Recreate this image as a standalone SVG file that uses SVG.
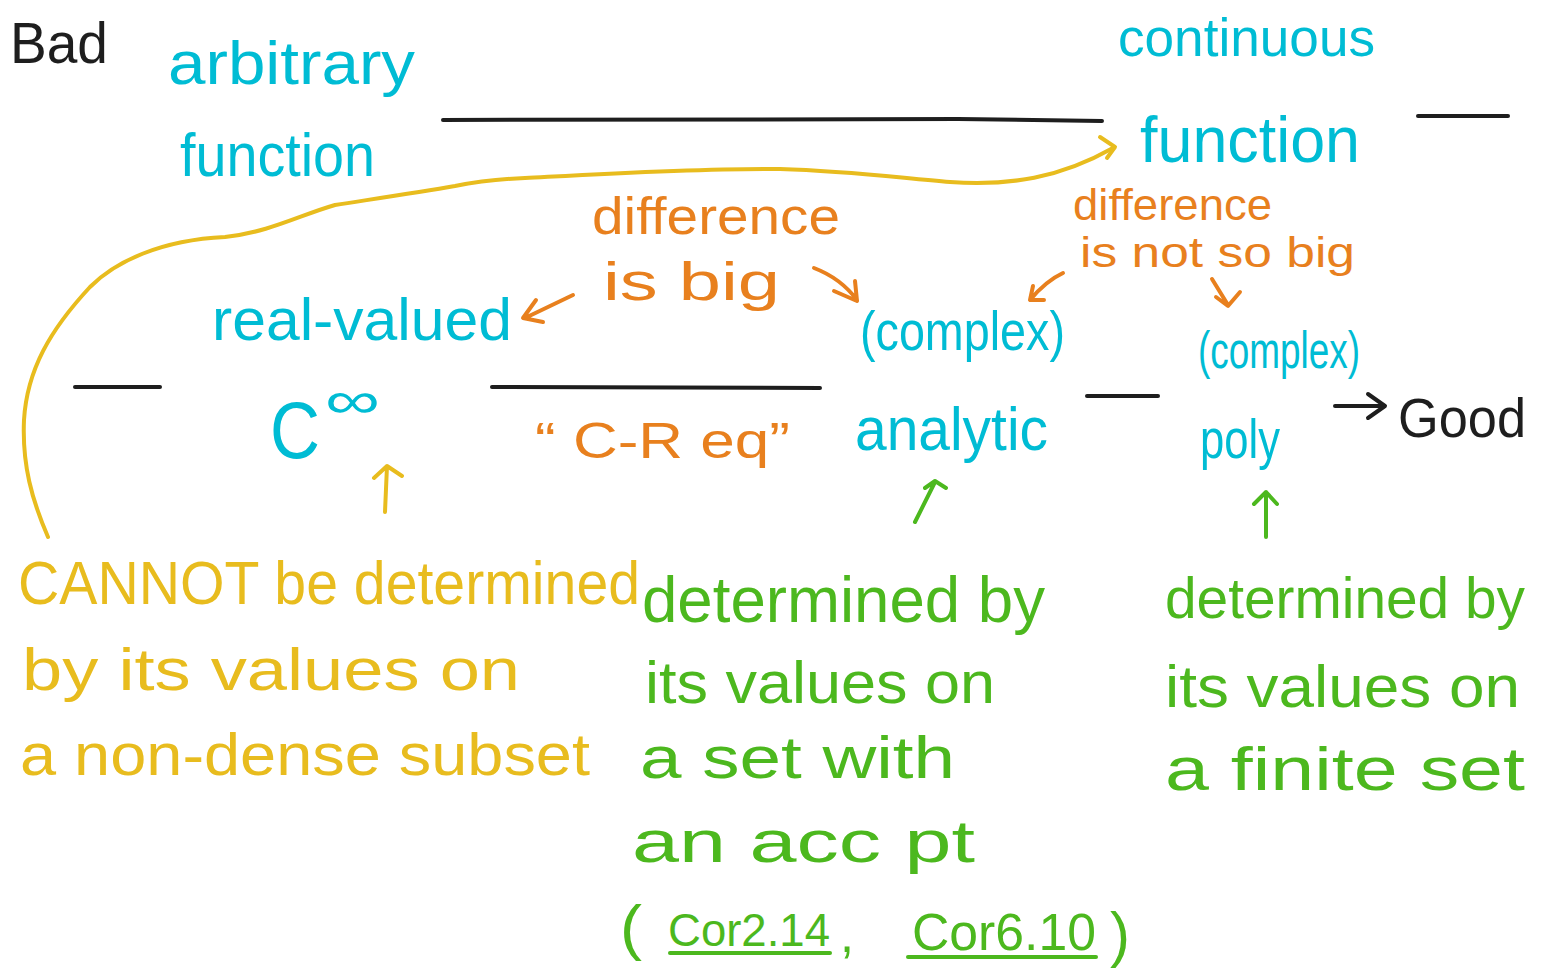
<svg xmlns="http://www.w3.org/2000/svg" width="1542" height="968" viewBox="0 0 1542 968">
<style>
text{font-family:"Liberation Sans","DejaVu Sans",sans-serif;}
.k{fill:#1e1e1e}.c{fill:#00bcd4}.o{fill:#e8801e}.y{fill:#e8bc1e}.g{fill:#4cb81e}
.ln{stroke:#1e1e1e;stroke-width:4;stroke-linecap:round;fill:none}
.ao{stroke:#e8801e;stroke-width:4;stroke-linecap:round;stroke-linejoin:round;fill:none}
.ay{stroke:#e8bc1e;stroke-width:4;stroke-linecap:round;stroke-linejoin:round;fill:none}
.ag{stroke:#4cb81e;stroke-width:4;stroke-linecap:round;stroke-linejoin:round;fill:none}
.ak{stroke:#1e1e1e;stroke-width:4;stroke-linecap:round;stroke-linejoin:round;fill:none}
</style>
<rect width="1542" height="968" fill="#ffffff"/>
<g id="connectors">
<path class="ln" d="M443,120 L958,119 L1102,121"/>
<path class="ln" d="M1418,116 L1508,116"/>
<path class="ln" d="M75,387 L160,387"/>
<path class="ln" d="M492,387 L820,388"/>
<path class="ln" d="M1087,396 L1158,396"/>
<path class="ay" d="M48,537 C32,500 22,465 24,420 C27,370 50,330 90,287 C115,262 160,240 225,237 C270,232 300,215 335,205 C380,198 420,192 455,186 C480,181 500,179 525,178 C600,174 700,168 780,169 C850,171 900,178 950,182 C1010,186 1060,178 1113,148"/>
<path class="ay" d="M1100,137 L1115,147 L1107,158"/>
<path class="ao" d="M573,295 L525,318 M536,300 L523,318 L543,322"/>
<path class="ao" d="M814,268 C835,276 848,288 857,300 M834,291 L857,301 L855,281"/>
<path class="ao" d="M1063,273 C1050,279 1040,288 1030,300 M1033,286 L1030,300 L1044,300"/>
<path class="ao" d="M1212,279 L1228,305 M1216,297 L1228,306 L1240,292"/>
<path class="ak" d="M1335,406 L1385,406 M1368,394 L1385,406 L1368,418"/>
<path class="ay" d="M385,512 L387,466 M374,478 L387,466 L402,476"/>
<path class="ag" d="M915,522 L935,482 M925,488 L935,481 L946,488"/>
<path class="ag" d="M1266,537 L1266,492 M1254,504 L1266,492 L1277,504"/>
<path class="ag" d="M670,953 L830,953"/>
<path class="ag" d="M908,957 L1096,957"/>
</g>
<g id="bad"><text class="k" x="10" y="63" font-size="58" textLength="98" lengthAdjust="spacingAndGlyphs">Bad</text></g>
<g id="good"><text class="k" x="1398" y="437" font-size="56" textLength="128" lengthAdjust="spacingAndGlyphs">Good</text></g>
<g id="arbitrary-function">
<text class="c" x="168" y="84" font-size="62" textLength="247" lengthAdjust="spacingAndGlyphs">arbitrary</text>
<text class="c" x="180" y="176" font-size="62" textLength="195" lengthAdjust="spacingAndGlyphs">function</text>
</g>
<g id="continuous-function">
<text class="c" x="1118" y="56" font-size="54" textLength="257" lengthAdjust="spacingAndGlyphs">continuous</text>
<text class="c" x="1140" y="162" font-size="64" textLength="220" lengthAdjust="spacingAndGlyphs">function</text>
</g>
<g id="label-big">
<text class="o" x="592" y="234" font-size="52" textLength="248" lengthAdjust="spacingAndGlyphs">difference</text>
<text class="o" x="603" y="300" font-size="54" textLength="177" lengthAdjust="spacingAndGlyphs">is  big</text>
</g>
<g id="label-not-big">
<text class="o" x="1073" y="220" font-size="44" textLength="199" lengthAdjust="spacingAndGlyphs">difference</text>
<text class="o" x="1080" y="267" font-size="42" textLength="275" lengthAdjust="spacingAndGlyphs">is  not  so  big</text>
</g>
<g id="real-valued"><text class="c" x="212" y="340" font-size="60" textLength="300" lengthAdjust="spacingAndGlyphs">real-valued</text></g>
<g id="cinf">
<text class="c" x="270" y="458" font-size="80" textLength="50" lengthAdjust="spacingAndGlyphs">C</text>
<text class="c" x="325" y="418" font-size="52" textLength="55" lengthAdjust="spacingAndGlyphs">∞</text>
</g>
<g id="cr-eq"><text class="o" x="535" y="458" font-size="50" textLength="255" lengthAdjust="spacingAndGlyphs">“ C-R eq”</text></g>
<g id="complex-analytic">
<text class="c" x="860" y="350" font-size="56" textLength="205" lengthAdjust="spacingAndGlyphs">(complex)</text>
<text class="c" x="855" y="450" font-size="62" textLength="193" lengthAdjust="spacingAndGlyphs">analytic</text>
</g>
<g id="complex-poly">
<text class="c" x="1198" y="368" font-size="52" textLength="162" lengthAdjust="spacingAndGlyphs">(complex)</text>
<text class="c" x="1200" y="458" font-size="56" textLength="80" lengthAdjust="spacingAndGlyphs">poly</text>
</g>
<g id="cannot">
<text class="y" x="18" y="604" font-size="62" textLength="622" lengthAdjust="spacingAndGlyphs">CANNOT be determined</text>
<text class="y" x="22" y="690" font-size="60" textLength="498" lengthAdjust="spacingAndGlyphs">by its  values  on</text>
<text class="y" x="20" y="775" font-size="60" textLength="570" lengthAdjust="spacingAndGlyphs">a non-dense subset</text>
</g>
<g id="acc-pt">
<text class="g" x="642" y="622" font-size="64" textLength="403" lengthAdjust="spacingAndGlyphs">determined by</text>
<text class="g" x="645" y="703" font-size="60" textLength="350" lengthAdjust="spacingAndGlyphs">its values on</text>
<text class="g" x="640" y="778" font-size="60" textLength="315" lengthAdjust="spacingAndGlyphs">a  set  with</text>
<text class="g" x="632" y="862" font-size="60" textLength="343" lengthAdjust="spacingAndGlyphs">an   acc   pt</text>
<text class="g" x="620" y="948" font-size="62" textLength="22" lengthAdjust="spacingAndGlyphs">(</text>
<text class="g" x="668" y="946" font-size="46" textLength="162" lengthAdjust="spacingAndGlyphs">Cor2.14</text>
<text class="g" x="840" y="952" font-size="52" textLength="14" lengthAdjust="spacingAndGlyphs">,</text>
<text class="g" x="912" y="950" font-size="52" textLength="184" lengthAdjust="spacingAndGlyphs">Cor6.10</text>
<text class="g" x="1110" y="955" font-size="62" textLength="20" lengthAdjust="spacingAndGlyphs">)</text>
</g>
<g id="finite-set">
<text class="g" x="1165" y="618" font-size="58" textLength="360" lengthAdjust="spacingAndGlyphs">determined by</text>
<text class="g" x="1165" y="707" font-size="60" textLength="355" lengthAdjust="spacingAndGlyphs">its values on</text>
<text class="g" x="1165" y="790" font-size="62" textLength="360" lengthAdjust="spacingAndGlyphs">a  finite  set</text>
</g>
</svg>
